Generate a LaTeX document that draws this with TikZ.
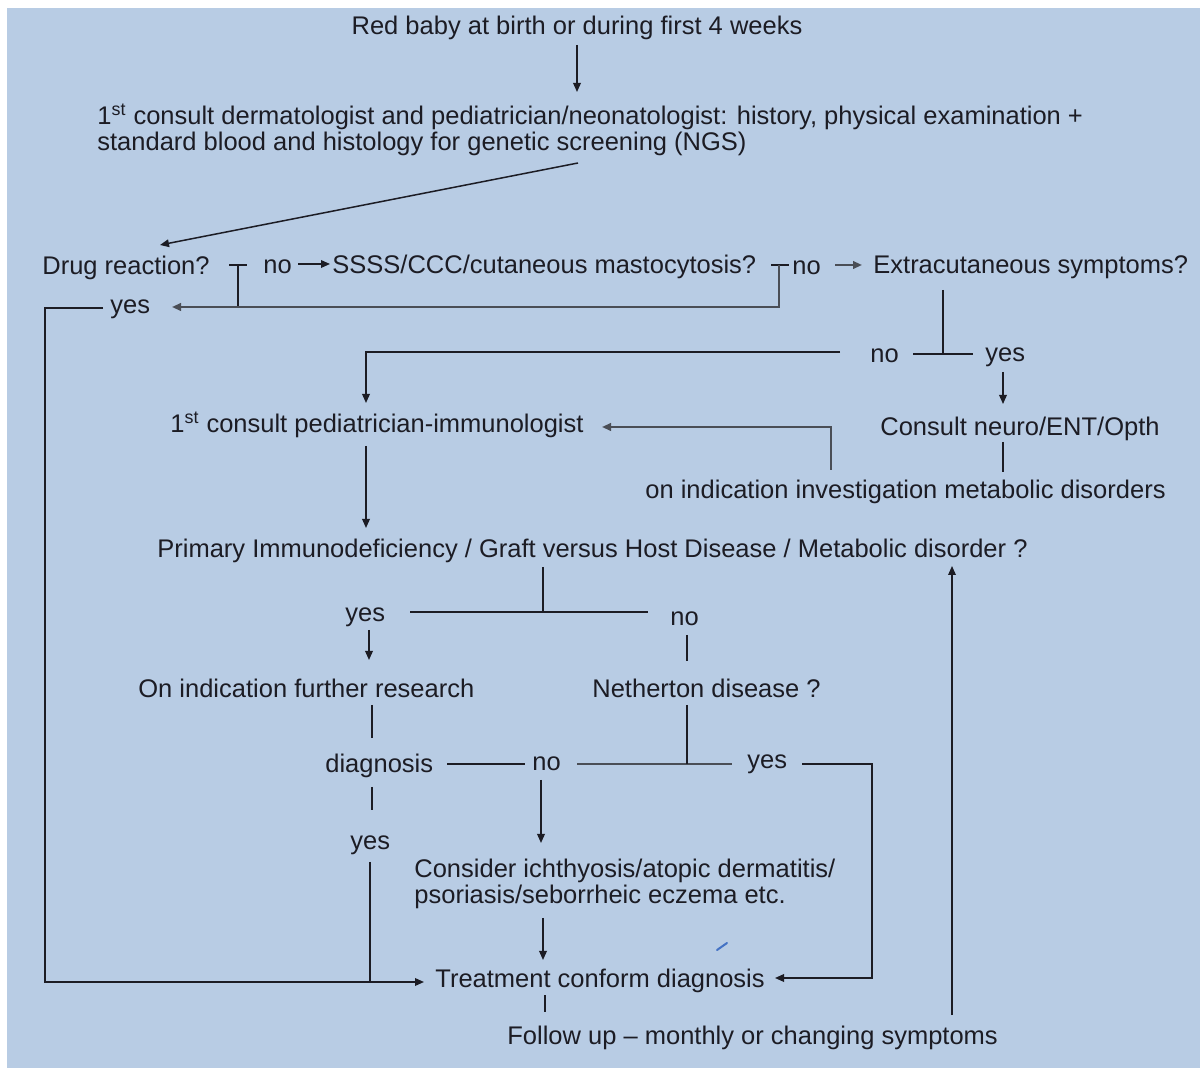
\documentclass[tikz,border=0pt]{standalone}
\usepackage{fontspec}
\setmainfont{Liberation Sans}
\usetikzlibrary{arrows.meta}
\definecolor{bg}{HTML}{B8CCE4}
\definecolor{ink}{HTML}{1C1C24}
\definecolor{gline}{HTML}{4A4E56}
\definecolor{tick}{HTML}{4472C4}
\begin{document}
\begin{tikzpicture}[x=0.5pt,y=-0.5pt,
  txt/.style={inner sep=0pt,anchor=west,yshift=-1pt,text=ink,font=\fontsize{12.75}{13}\selectfont,align=left},
  ln/.style={draw=ink,line width=0.75pt},
  gln/.style={draw=gline,line width=1pt},
  arr/.style={-{Triangle[length=4.5pt,width=3.8pt]}}]
\useasboundingbox (0,0) rectangle (1200,1068);
\fill[bg] (7,8) rectangle (1200,1068);
% nodes
\node[txt,anchor=center] (red) at (577,26) {Red baby at birth or during first 4 weeks};
\node[txt] (cons) at (97,128) {1\textsuperscript{st} consult dermatologist and pediatrician/neonatologist: history, physical examination +\\standard blood and histology for genetic screening (NGS)};
\node[txt] (drug) at (42,266) {Drug reaction?};
\node[txt] (no1) at (263,265) {no};
\node[txt] (ssss) at (332,265) {SSSS/CCC/cutaneous mastocytosis?};
\node[txt] (no2) at (792,266) {no};
\node[txt] (extra) at (873,265) {Extracutaneous symptoms?};
\node[txt] (yes1) at (110,307) {yes};
\node[txt] (no3) at (870,354) {no};
\node[txt] (yes3) at (985,355) {yes};
\node[txt] (ped) at (170,423) {1\textsuperscript{st} consult pediatrician-immunologist};
\node[txt] (neuro) at (880,427) {Consult neuro/ENT/Opth};
\node[txt] (meta) at (645,490) {on indication investigation metabolic disorders};
\node[txt] (pid) at (157,549) {Primary Immunodeficiency / Graft versus Host Disease / Metabolic disorder ?};
\node[txt] (yes4) at (345,615) {yes};
\node[txt] (no4) at (670,617) {no};
\node[txt] (onind) at (138,686) {On indication further research};
\node[txt] (neth) at (592,686) {Netherton disease ?};
\node[txt] (diag) at (325,764) {diagnosis};
\node[txt] (no5) at (532,762) {no};
\node[txt] (yes5) at (747,762) {yes};
\node[txt] (yes6) at (350,843) {yes};
\node[txt] (consider) at (414,882) {Consider ichthyosis/atopic dermatitis/\\psoriasis/seborrheic eczema etc.};
\node[txt] (treat) at (435,979) {Treatment conform diagnosis};
\node[txt] (follow) at (507,1036) {Follow up -- monthly or changing symptoms};
% junction coordinates
\coordinate (c1a) at (577,45); \coordinate (c1b) at (577,92);
\coordinate (c2a) at (578,163); \coordinate (c2b) at (160,245);
\coordinate (t1l) at (229,265); \coordinate (t1r) at (247,265); \coordinate (t1m) at (238,265); \coordinate (t1d) at (238,307);
\coordinate (a1a) at (298,264); \coordinate (a1b) at (330,264);
\coordinate (t2l) at (771,265); \coordinate (t2r) at (789,265); \coordinate (t2m) at (779,265); \coordinate (t2d) at (779,307); \coordinate (t2e) at (172,307);
\coordinate (a2a) at (835,265); \coordinate (a2b) at (862,265);
\coordinate (y1a) at (103,308); \coordinate (y1b) at (45,308); \coordinate (y1c) at (45,982); \coordinate (y1d) at (424,982);
\coordinate (e1) at (943,290); \coordinate (e2) at (943,354); \coordinate (e3) at (913,354); \coordinate (e4) at (973,354);
\coordinate (n3a) at (840,352); \coordinate (n3b) at (366,352); \coordinate (n3c) at (366,403);
\coordinate (y3a) at (1003,372); \coordinate (y3b) at (1003,404);
\coordinate (nm1) at (1003,442); \coordinate (nm2) at (1003,472);
\coordinate (mp1) at (831,470); \coordinate (mp2) at (831,427); \coordinate (mp3) at (602,427);
\coordinate (pp1) at (366,446); \coordinate (pp2) at (366,528);
\coordinate (pd1) at (543,567); \coordinate (pd2) at (543,612); \coordinate (pd3) at (410,612); \coordinate (pd4) at (648,612);
\coordinate (y4a) at (369,630); \coordinate (y4b) at (369,660);
\coordinate (n4a) at (687,635); \coordinate (n4b) at (687,661);
\coordinate (od1) at (372,705); \coordinate (od2) at (372,738);
\coordinate (dn1) at (447,764); \coordinate (dn2) at (525,764);
\coordinate (ny1) at (577,764); \coordinate (ny2) at (732,764); \coordinate (nt1) at (687,705); \coordinate (nt2) at (687,764);
\coordinate (y5a) at (802,764); \coordinate (y5b) at (872,764); \coordinate (y5c) at (872,978); \coordinate (y5d) at (775,978);
\coordinate (dy1) at (372,787); \coordinate (dy2) at (372,810);
\coordinate (y6a) at (370,862); \coordinate (y6b) at (370,982);
\coordinate (nc1) at (541,780); \coordinate (nc2) at (541,843);
\coordinate (ct1) at (543,918); \coordinate (ct2) at (543,960);
\coordinate (tf1) at (545,995); \coordinate (tf2) at (545,1012);
\coordinate (fp1) at (952,1015); \coordinate (fp2) at (952,566);
% connectors
\draw[ln,arr] (c1a) -- (c1b);
\draw[ln,arr] (c2a) -- (c2b);
\draw[ln] (t1l) -- (t1r); \draw[ln] (t1m) -- (t1d);
\draw[ln,arr] (a1a) -- (a1b);
\draw[ln] (t2l) -- (t2r);
\draw[gln,arr] (t2m) -- (t2d) -- (t2e);
\draw[gln,arr] (a2a) -- (a2b);
\draw[ln,arr] (y1a) -- (y1b) -- (y1c) -- (y1d);
\draw[ln] (e1) -- (e2); \draw[ln] (e3) -- (e4);
\draw[ln,arr] (n3a) -- (n3b) -- (n3c);
\draw[ln,arr] (y3a) -- (y3b);
\draw[ln] (nm1) -- (nm2);
\draw[gln,arr] (mp1) -- (mp2) -- (mp3);
\draw[ln,arr] (pp1) -- (pp2);
\draw[ln] (pd1) -- (pd2); \draw[ln] (pd3) -- (pd4);
\draw[ln,arr] (y4a) -- (y4b);
\draw[ln] (n4a) -- (n4b);
\draw[ln] (od1) -- (od2);
\draw[ln] (dn1) -- (dn2);
\draw[gln] (ny1) -- (ny2); \draw[ln] (nt1) -- (nt2);
\draw[ln,arr] (y5a) -- (y5b) -- (y5c) -- (y5d);
\draw[ln] (dy1) -- (dy2);
\draw[ln] (y6a) -- (y6b);
\draw[ln,arr] (nc1) -- (nc2);
\draw[ln,arr] (ct1) -- (ct2);
\draw[ln] (tf1) -- (tf2);
\draw[ln,arr] (fp1) -- (fp2);
\draw[draw=tick,line width=1pt,line cap=round] (717,950) -- (727,943);
\end{tikzpicture}
\end{document}
